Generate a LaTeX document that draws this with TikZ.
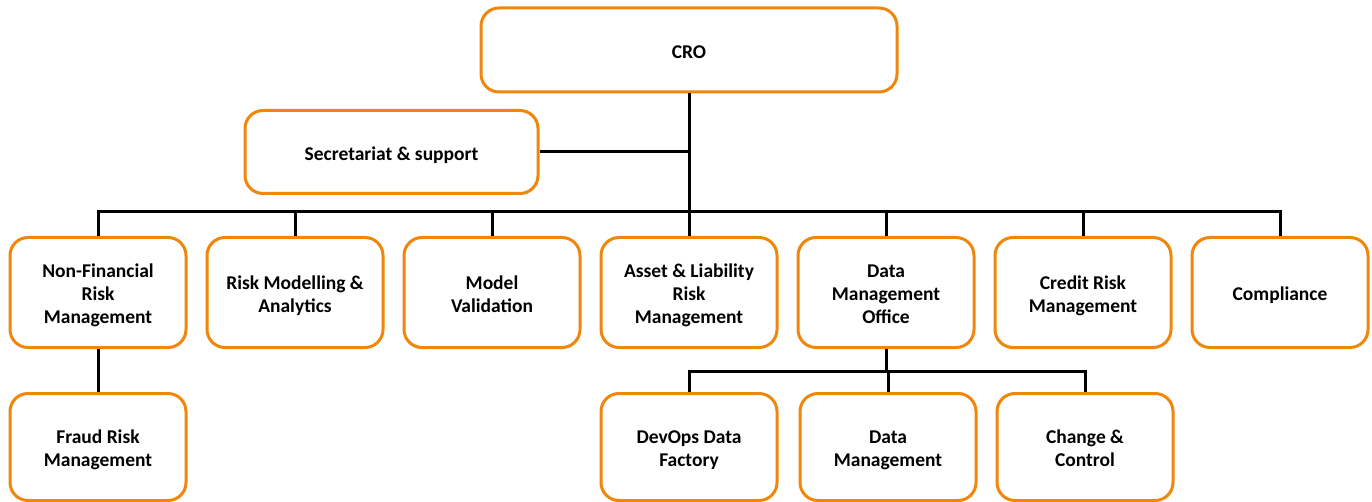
\documentclass[tikz,border=0pt]{standalone}
\usepackage{fontspec}
\setmainfont{Carlito}
\definecolor{boxorange}{RGB}{240,134,10}
\newcommand{\tallstrut}{\rule{0pt}{23pt}}

\begin{document}
\begin{tikzpicture}[
    x=1pt, y=-1pt,
    unit/.style={draw=boxorange, line width=3pt, rounded corners=18pt,
        fill=white, align=flush center, text width=168pt,
        font=\fontsize{19.5}{23}\selectfont\bfseries,
        minimum width=176pt, minimum height=110pt, inner sep=2pt,
        execute at begin node=\tallstrut, execute at end node=\strut},
    link/.style={line width=3pt, black}
]
    \useasboundingbox (0,0) rectangle (1372,502);

    % Top of the tree
    \node[unit, minimum width=416pt, minimum height=84pt] (cro) at (689,50) {CRO};
    \node[unit, text width=250pt, minimum width=293pt, minimum height=83pt] (sec) at (391.5,152) {Secretariat \& support};

    % First level units
    \node[unit] (nfr) at (98,292.5)   {Non-Financial\\Risk\\Management};
    \node[unit] (rma) at (295,292.5)  {Risk Modelling \&\\Analytics};
    \node[unit] (mv)  at (492,292.5)  {Model\\Validation};
    \node[unit] (alr) at (689,292.5)  {Asset \& Liability\\Risk\\Management};
    \node[unit] (dmo) at (886,292.5)  {Data\\Management\\Office};
    \node[unit] (crm) at (1083,292.5) {Credit Risk\\Management};
    \node[unit] (cmp) at (1280,292.5) {Compliance};

    % Second level units
    \node[unit, minimum height=107pt] (frm) at (98,447)   {Fraud Risk\\Management};
    \node[unit, minimum height=107pt] (ddf) at (689,447)  {DevOps Data\\Factory};
    \node[unit, minimum height=107pt] (dm)  at (888,447)  {Data\\Management};
    \node[unit, minimum height=107pt] (cc)  at (1085,447) {Change \&\\Control};

    % Connectors
    \coordinate (bus) at (689,212);
    \coordinate (dbus) at (886,371);
    \draw[link] (cro.south) -- (bus);
    \draw[link] (sec.east) -- (sec.east -| cro.south);
    \foreach \n in {nfr,rma,mv,alr,dmo,crm,cmp}
        \draw[link] (bus) -| (\n.north);
    \draw[link] (nfr.south) -- (frm.north);
    \draw[link] (dmo.south) -- (dbus);
    \foreach \n in {ddf,dm,cc}
        \draw[link] (dbus) -| (\n.north);
\end{tikzpicture}
\end{document}
